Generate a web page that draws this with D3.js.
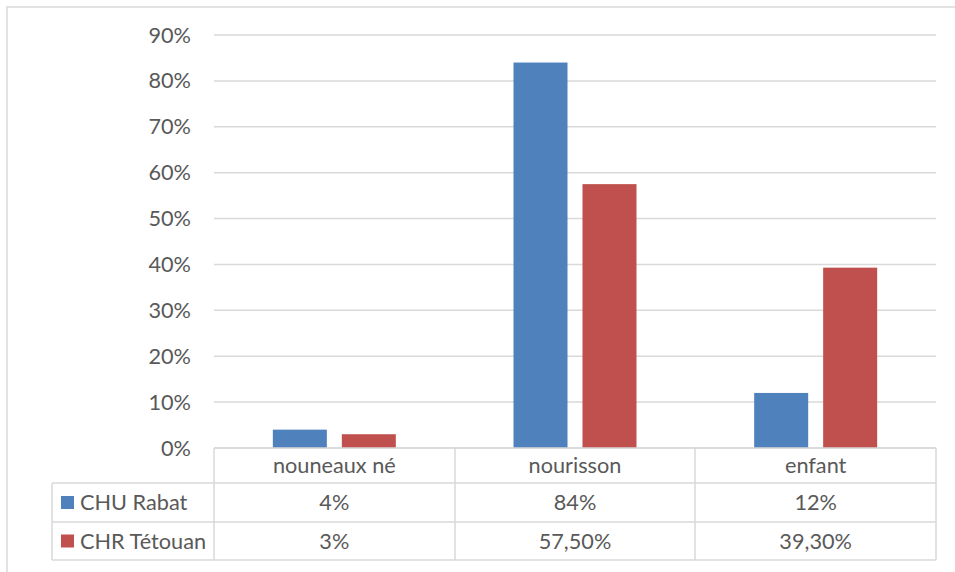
<!DOCTYPE html>
<html>
<head>
<meta charset="utf-8">
<script src="https://cdn.jsdelivr.net/npm/d3@7"></script>
<style>
  body { margin: 0; background: #fff; }
  svg { display: block; font-family: Lato, "Open Sans", sans-serif; }
</style>
</head>
<body>
<div id="chart"></div>
<script>
// données
const categories = ["nouneaux né", "nourisson", "enfant"];
const series = ["CHU Rabat", "CHR Tétouan"];
const chuRabat = [4, 84, 12];
const chrTetouan = [3, 57.5, 39.3];
const chuLabels = ["4%", "84%", "12%"];
const chrLabels = ["3%", "57,50%", "39,30%"];
const yTicks = [0, 10, 20, 30, 40, 50, 60, 70, 80, 90];
const colors = ["#4F81BD", "#C0504D"];

const W = 955, H = 572;
const grid = "#D9D9D9", txt = "#595959";
const fs = 21.7;

const svg = d3.select("#chart").append("svg")
  .attr("width", W).attr("height", H);

// cadre du graphique
svg.append("rect")
  .attr("x", 7).attr("y", 7)
  .attr("width", W + 10).attr("height", H + 10)
  .attr("fill", "none").attr("stroke", grid).attr("stroke-width", 1.5);

const x = d3.scaleBand().domain(categories).range([214, 936]);
const y = d3.scaleLinear().domain([0, 90]).range([448, 35]);
const xs = d3.scaleBand().domain(series).range([0, x.bandwidth()])
  .paddingInner(0.217).paddingOuter(0.853);

// grille + étiquettes Y
const gy = svg.append("g");
gy.selectAll("line").data(yTicks).enter().append("line")
  .attr("x1", 214).attr("x2", 936)
  .attr("y1", (d) => y(d)).attr("y2", (d) => y(d))
  .attr("stroke", grid).attr("stroke-width", 1.5);
gy.selectAll("text").data(yTicks).enter().append("text")
  .attr("x", 191).attr("y", (d) => y(d))
  .attr("dy", "0.35em").attr("text-anchor", "end")
  .attr("fill", txt).attr("font-size", fs)
  .text((d) => d + "%");

// barres
const rows = [chuRabat, chrTetouan];
rows.forEach((vals, si) => {
  svg.append("g").selectAll("rect").data(vals).enter().append("rect")
    .attr("x", (d, i) => x(categories[i]) + xs(series[si]))
    .attr("width", xs.bandwidth())
    .attr("y", (d) => y(d))
    .attr("height", (d) => y(0) - y(d))
    .attr("fill", colors[si]);
});

// tableau de données
const rowY = [448, 483, 522, 560];
const tbl = svg.append("g").attr("stroke", grid).attr("stroke-width", 1.5);
// lignes horizontales
tbl.append("line").attr("x1", 214).attr("x2", 936).attr("y1", rowY[0]).attr("y2", rowY[0]);
[1, 2, 3].forEach((r) => {
  tbl.append("line").attr("x1", 52).attr("x2", 936).attr("y1", rowY[r]).attr("y2", rowY[r]);
});
// lignes verticales
const vx = [214, 455, 695, 936];
vx.forEach((v) => {
  tbl.append("line").attr("x1", v).attr("x2", v).attr("y1", rowY[0]).attr("y2", rowY[3]);
});
tbl.append("line").attr("x1", 52).attr("x2", 52).attr("y1", rowY[1]).attr("y2", rowY[3]);

const cx = (c) => x(c) + x.bandwidth() / 2;
svg.append("g").selectAll("text").data(categories).enter().append("text")
  .attr("x", cx).attr("y", (rowY[0] + rowY[1]) / 2).attr("dy", "0.35em")
  .attr("text-anchor", "middle").attr("fill", txt).attr("font-size", fs)
  .text((d) => d);

[chuLabels, chrLabels].forEach((labs, si) => {
  const ym = (rowY[si + 1] + rowY[si + 2]) / 2;
  const g = svg.append("g");
  g.selectAll("text").data(labs).enter().append("text")
    .attr("x", (d, i) => cx(categories[i])).attr("y", ym).attr("dy", "0.35em")
    .attr("text-anchor", "middle").attr("fill", txt).attr("font-size", fs)
    .text((d) => d);
  g.append("rect").attr("x", 61).attr("y", ym - 6.5)
    .attr("width", 13).attr("height", 13).attr("fill", colors[si]);
  g.append("text").attr("x", 80).attr("y", ym).attr("dy", "0.35em")
    .attr("fill", txt).attr("font-size", fs).text(series[si]);
});
</script>
</body>
</html>
